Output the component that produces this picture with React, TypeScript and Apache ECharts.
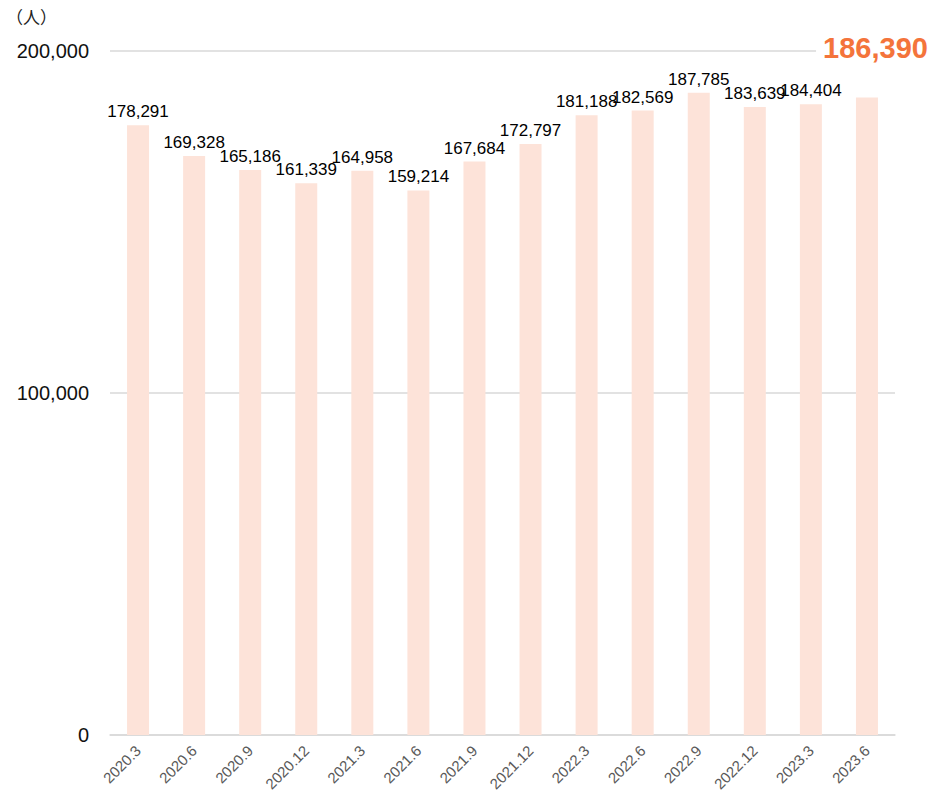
import React, { useEffect, useRef } from "react";
import * as echarts from "echarts";

const categories = ["2020.3", "2020.6", "2020.9", "2020.12", "2021.3", "2021.6", "2021.9", "2021.12", "2022.3", "2022.6", "2022.9", "2022.12", "2023.3", "2023.6"];
const values = [178291, 169328, 165186, 161339, 164958, 159214, 167684, 172797, 181188, 182569, 187785, 183639, 184404, 186390];
const yTicks = [0, 100000, 200000];
const unitLabel = "（人）";

const fmt = (v: number) => v.toLocaleString("en-US");
const FONT = "Liberation Sans, Arial, sans-serif";

export default function App() {
  const ref = useRef<HTMLDivElement>(null);
  useEffect(() => {
    if (!ref.current) return;
    const chart = echarts.init(ref.current, null, { renderer: "svg" });
    const last = values.length - 1;
    chart.setOption({
      animation: false,
      grid: { left: 110, right: 55, top: 51, bottom: 60, outerBoundsMode: "none" },
      graphic: [
        {
          type: "text",
          left: 6,
          top: 8,
          style: { text: unitLabel, fontSize: 17, fill: "#222", fontFamily: "Noto Sans CJK JP, sans-serif" },
        },
      ],
      xAxis: {
        type: "category",
        data: categories,
        axisLine: { lineStyle: { color: "#d9d9d9", width: 1.5 } },
        axisTick: { show: false },
        axisLabel: { rotate: 45, fontSize: 15, interval: 0, color: "#595959", margin: 13, fontFamily: FONT },
      },
      yAxis: {
        type: "value",
        min: yTicks[0],
        max: yTicks[yTicks.length - 1],
        interval: 100000,
        axisLine: { show: false },
        axisTick: { show: false },
        splitLine: { lineStyle: { color: "#d9d9d9", width: 1.5 } },
        axisLabel: { color: "#111", fontSize: 20, margin: 21, fontFamily: FONT, formatter: (v: number) => fmt(v) },
      },
      series: [
        {
          type: "bar",
          barWidth: 22,
          itemStyle: { color: "#fde3d9" },
          data: values.map((v, i) =>
            i === last
              ? {
                  value: v,
                  label: {
                    show: true,
                    position: "top",
                    offset: [7, -30],
                    fontSize: 29,
                    fontWeight: "bold",
                    fontFamily: FONT,
                    color: "#f4743b",
                    backgroundColor: "#fff",
                    padding: [0, 4, 0, 7],
                  },
                }
              : v
          ),
          label: {
            show: true,
            position: "top",
            distance: 5,
            color: "#000",
            fontSize: 17,
            fontFamily: FONT,
            formatter: (p: any) => fmt(p.value),
          },
        },
      ],
    });
    return () => chart.dispose();
  }, []);
  return <div ref={ref} style={{ width: 950, height: 795, position: "absolute", left: 0, top: 0 }} />;
}
